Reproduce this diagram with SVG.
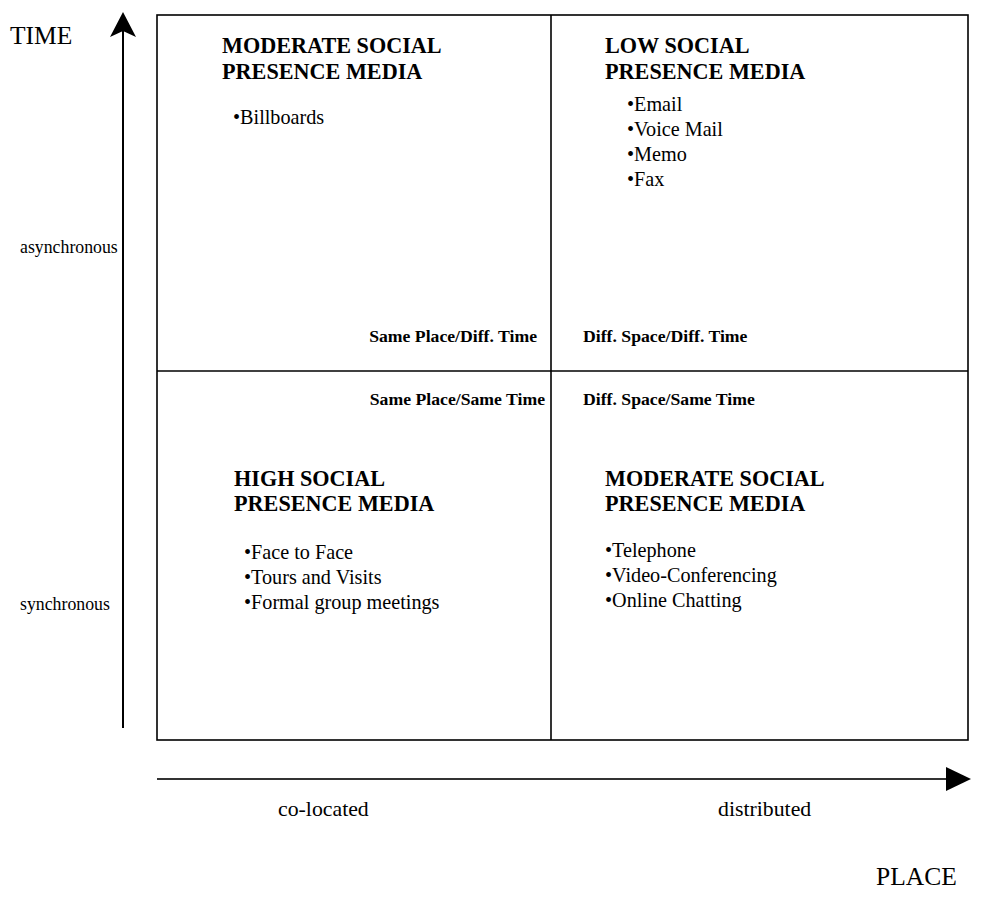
<svg xmlns="http://www.w3.org/2000/svg" width="994" height="899" viewBox="0 0 994 899">
<style>
text{font-family:"Liberation Serif","Times New Roman",serif;fill:#000}
.axis{font-size:25.5px}
.lbl{font-size:17.8px}
.pole{font-size:21.8px}
.title{font-size:22.2px;font-weight:bold}
.item{font-size:20.2px}
.corner{font-size:17.7px;font-weight:bold}
.ln{stroke:#000;stroke-width:1.6;fill:none}
</style>
<rect width="994" height="899" fill="#fff"/>
<g id="axes">
<line x1="123" y1="728" x2="123" y2="28" stroke="#000" stroke-width="2"/>
<path d="M123,12 L136,37 L123,31 L110,37 Z" fill="#000"/>
<line x1="157" y1="779" x2="948" y2="779" stroke="#333" stroke-width="2"/>
<path d="M946,767 L971,779 L946,791 Z" fill="#000"/>
<text class="axis" x="10" y="44">TIME</text>
<text class="axis" x="876" y="885">PLACE</text>
<text class="lbl" x="20" y="253">asynchronous</text>
<text class="lbl" x="20" y="610">synchronous</text>
<text class="pole" x="278" y="816">co-located</text>
<text class="pole" x="718" y="816">distributed</text>
</g>
<g id="grid">
<rect class="ln" x="157" y="15" width="811" height="725"/>
<line class="ln" x1="551" y1="15" x2="551" y2="740"/>
<line class="ln" x1="157" y1="371" x2="968" y2="371"/>
</g>
<g id="q-same-diff">
<text class="title" x="222" y="53">MODERATE SOCIAL</text>
<text class="title" x="222" y="79">PRESENCE MEDIA</text>
<text class="item" x="233" y="124">•Billboards</text>
<text class="corner" x="537" y="342" text-anchor="end">Same Place/Diff. Time</text>
</g>
<g id="q-diff-diff">
<text class="title" x="605" y="53">LOW SOCIAL</text>
<text class="title" x="605" y="79">PRESENCE MEDIA</text>
<text class="item" x="627" y="111">•Email</text>
<text class="item" x="627" y="136">•Voice Mail</text>
<text class="item" x="627" y="161">•Memo</text>
<text class="item" x="627" y="186">•Fax</text>
<text class="corner" x="583" y="342">Diff. Space/Diff. Time</text>
</g>
<g id="q-same-same">
<text class="corner" x="545" y="405" text-anchor="end">Same Place/Same Time</text>
<text class="title" x="234" y="486">HIGH SOCIAL</text>
<text class="title" x="234" y="511">PRESENCE MEDIA</text>
<text class="item" x="244" y="559">•Face to Face</text>
<text class="item" x="244" y="584">•Tours and Visits</text>
<text class="item" x="244" y="609">•Formal group meetings</text>
</g>
<g id="q-diff-same">
<text class="corner" x="583" y="405">Diff. Space/Same Time</text>
<text class="title" x="605" y="486">MODERATE SOCIAL</text>
<text class="title" x="605" y="511">PRESENCE MEDIA</text>
<text class="item" x="605" y="557">•Telephone</text>
<text class="item" x="605" y="582">•Video-Conferencing</text>
<text class="item" x="605" y="607">•Online Chatting</text>
</g>
</svg>
